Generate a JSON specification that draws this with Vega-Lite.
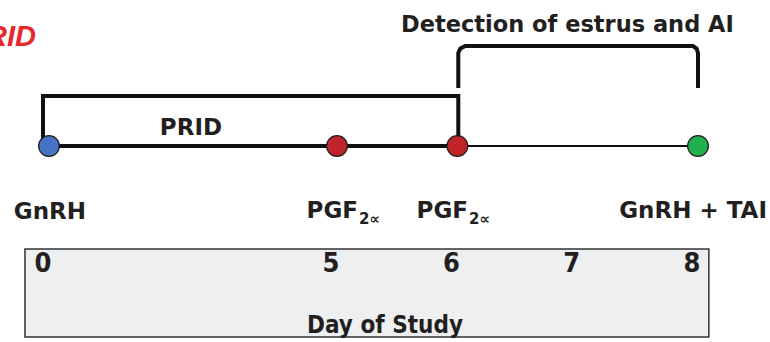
{
  "$schema": "https://vega.github.io/schema/vega-lite/v6.json",
  "width": 770,
  "height": 342,
  "autosize": "none",
  "padding": 0,
  "background": "white",
  "config": {"view": {"stroke": null}, "axis": {"disable": true}},
  "encoding": {
    "x": {"field": "day", "type": "quantitative", "axis": null,
          "scale": {"type": "linear", "domain": [0, 5, 8], "range": [49, 337, 698], "zero": false, "nice": false}},
    "y": {"field": "level", "type": "quantitative", "axis": null,
          "scale": {"type": "linear", "domain": [0, 342], "range": [0, 342], "zero": false, "nice": false}}
  },
  "layer": [
    {
      "data": {"values": [{"day": -0.417, "day2": 8.09, "level": 249, "level2": 337}]},
      "mark": {"type": "rect", "fill": "#eeeff1", "stroke": "#333333", "strokeWidth": 1.5},
      "encoding": {"x2": {"field": "day2"}, "y2": {"field": "level2"}}
    },
    {
      "data": {"values": [
        {"seg": "prid", "w": 4, "ord": 1, "day": -0.104, "level": 147},
        {"seg": "prid", "w": 4, "ord": 2, "day": -0.104, "level": 96},
        {"seg": "prid", "w": 4, "ord": 3, "day": 6.008, "level": 96},
        {"seg": "prid", "w": 4, "ord": 4, "day": 6.008, "level": 147},
        {"seg": "base", "w": 4, "ord": 1, "day": 0, "level": 146},
        {"seg": "base", "w": 4, "ord": 2, "day": 6, "level": 146},
        {"seg": "thin", "w": 2, "ord": 1, "day": 6, "level": 146},
        {"seg": "thin", "w": 2, "ord": 2, "day": 8, "level": 146},
        {"seg": "det", "w": 4, "ord": 1, "day": 6.008, "level": 88},
        {"seg": "det", "w": 4, "ord": 2, "day": 6.008, "level": 53},
        {"seg": "det", "w": 4, "ord": 3, "day": 6.025, "level": 48.5},
        {"seg": "det", "w": 4, "ord": 4, "day": 6.066, "level": 46},
        {"seg": "det", "w": 4, "ord": 5, "day": 7.958, "level": 46},
        {"seg": "det", "w": 4, "ord": 6, "day": 7.988, "level": 48.5},
        {"seg": "det", "w": 4, "ord": 7, "day": 8.0, "level": 53},
        {"seg": "det", "w": 4, "ord": 8, "day": 8.0, "level": 88}
      ]},
      "mark": {"type": "line", "color": "#111111", "strokeJoin": "miter", "strokeCap": "butt"},
      "encoding": {
        "detail": {"field": "seg", "type": "nominal"},
        "order": {"field": "ord", "type": "quantitative"},
        "strokeWidth": {"field": "w", "type": "quantitative", "scale": null, "legend": null}
      }
    },
    {
      "data": {"values": [
        {"event": "GnRH", "day": 0, "level": 146, "fillc": "#4673c4"},
        {"event": "PGF2a", "day": 5, "level": 146, "fillc": "#c1232b"},
        {"event": "PGF2a", "day": 6, "level": 146, "fillc": "#c1232b"},
        {"event": "GnRH + TAI", "day": 8, "level": 146, "fillc": "#20b14c"}
      ]},
      "mark": {"type": "point", "shape": "circle", "filled": true, "size": 430, "opacity": 1, "stroke": "#1a1a1a", "strokeWidth": 1.2},
      "encoding": {"fill": {"field": "fillc", "type": "nominal", "scale": null, "legend": null}}
    },
    {
      "data": {"values": [
        {"t": "0", "day": 0, "level": 272},
        {"t": "5", "day": 5, "level": 272},
        {"t": "6", "day": 6, "level": 272},
        {"t": "7", "day": 7, "level": 272},
        {"t": "8", "day": 8, "level": 272}
      ]},
      "mark": {"type": "text", "font": "DejaVu Sans Condensed", "fontWeight": "bold", "fontSize": 27, "color": "#231f20", "align": "center", "baseline": "alphabetic", "dx": -6},
      "encoding": {"text": {"field": "t"}}
    },
    {
      "data": {"values": [
        {"t": "GnRH", "day": 0.642, "level": 219},
        {"t": "PGF", "day": 5.175, "level": 218},
        {"t": "PGF", "day": 6.089, "level": 218},
        {"t": "GnRH + TAI", "day": 8.573, "level": 218}
      ]},
      "mark": {"type": "text", "font": "DejaVu Sans", "fontWeight": "bold", "fontSize": 23, "color": "#231f20", "align": "right", "baseline": "alphabetic"},
      "encoding": {"text": {"field": "t"}}
    },
    {
      "data": {"values": [
        {"t": "2∝", "day": 5.183, "level": 224},
        {"t": "2∝", "day": 6.097, "level": 224}
      ]},
      "mark": {"type": "text", "font": "DejaVu Sans", "fontWeight": "bold", "fontSize": 15, "color": "#231f20", "align": "left", "baseline": "alphabetic"},
      "encoding": {"text": {"field": "t"}}
    },
    {
      "data": {"values": [
        {"t": "PRID", "day": 2.465, "level": 135, "fs": 23},
        {"t": "Detection of estrus and AI", "day": 6.915, "level": 32, "fs": 22.5}
      ]},
      "mark": {"type": "text", "font": "DejaVu Sans", "fontWeight": "bold", "color": "#231f20", "align": "center", "baseline": "alphabetic"},
      "encoding": {"text": {"field": "t"}, "size": {"field": "fs", "type": "quantitative", "scale": null, "legend": null}}
    },
    {
      "data": {"values": [{"t": "Day of Study", "day": 5.399, "level": 333}]},
      "mark": {"type": "text", "font": "DejaVu Sans Condensed", "fontWeight": "bold", "fontSize": 24, "color": "#231f20", "align": "center", "baseline": "alphabetic"},
      "encoding": {"text": {"field": "t"}}
    },
    {
      "data": {"values": [{"t": "PRID", "day": -0.226, "level": 46}]},
      "mark": {"type": "text", "font": "Liberation Sans", "fontWeight": "bold", "fontStyle": "italic", "fontSize": 29, "color": "#e8262b", "align": "right", "baseline": "alphabetic"},
      "encoding": {"text": {"field": "t"}}
    }
  ]
}
